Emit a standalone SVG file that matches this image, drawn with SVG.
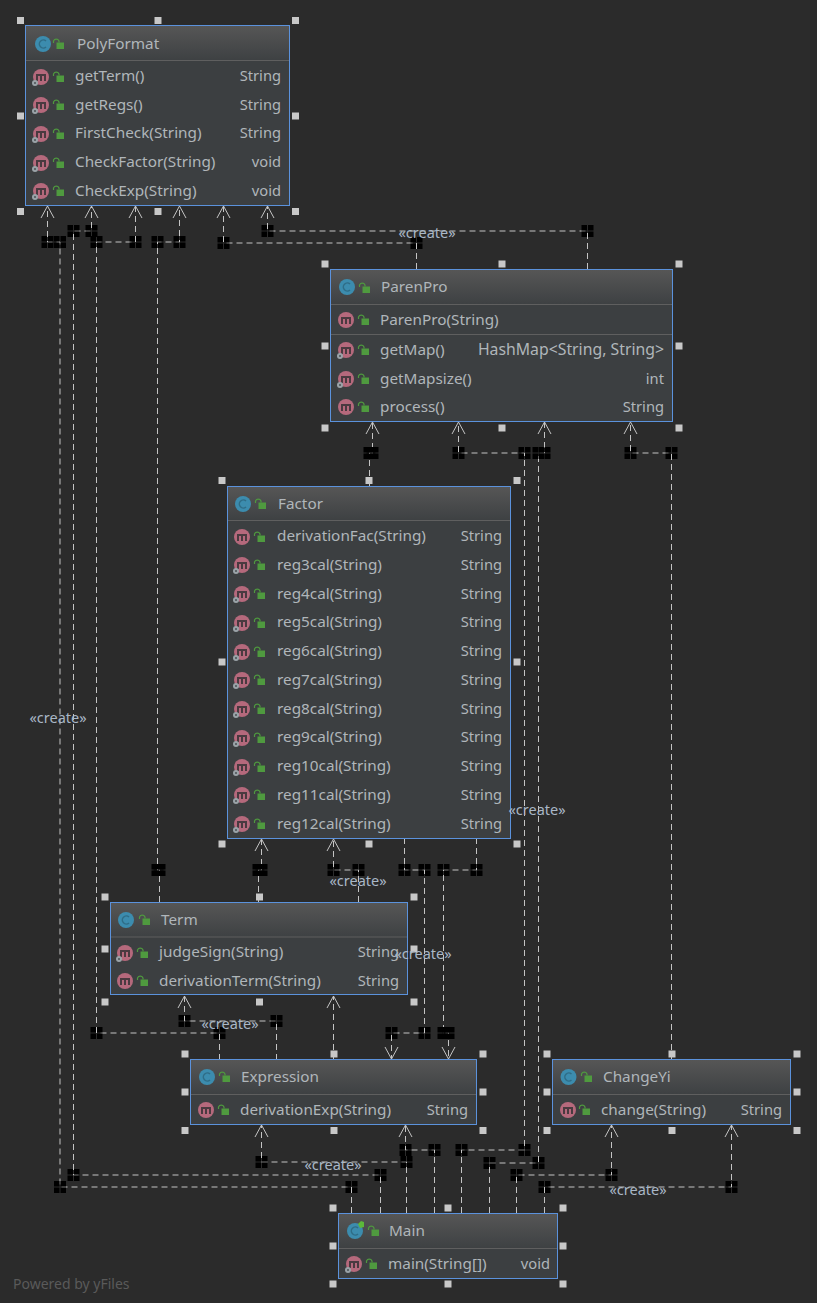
<svg xmlns="http://www.w3.org/2000/svg" width="817" height="1303" viewBox="0 0 817 1303">
<style>
text{font-family:"Noto Sans","Liberation Sans",sans-serif;font-size:15.3px;fill:#b0b6ba}
.t{text-anchor:end;font-size:14.7px}
.lb{text-anchor:middle;fill:#a9b7c6;font-size:14.5px}
.pw{font-size:14px;fill:#5a5a5a}
.hd{fill:url(#hg)}
.box{fill:#3c3f41;stroke:#5b92dc;stroke-width:1}
.sep{stroke:#5f5f5f;stroke-width:1}
.c path{fill:none;stroke:#c4c4c4;stroke-width:1;stroke-dasharray:6 4;marker-mid:url(#bend)}
.hn{fill:#c8c8c8}
</style>
<defs>
<linearGradient id="hg" x1="0" y1="0" x2="0" y2="1"><stop offset="0" stop-color="#565656"/><stop offset="1" stop-color="#3e4143"/></linearGradient>
<marker id="bend" markerUnits="userSpaceOnUse" markerWidth="14" markerHeight="14" refX="7" refY="7" overflow="visible">
<path d="M1 1h5.500v5.500H1zM7.500 1H13v5.500H7.500zM1 7.500h5.500V13H1zM7.500 7.500H13V13H7.500z" fill="#000"/>
</marker>
<g id="mi"><circle r="8" fill="#b5697c"/><path d="M-5-3H5V4H3V-1H1V4H-1V-1H-3V4H-5z" fill="#4a3a40"/></g>
<g id="mg"><use href="#mi"/><circle cx="-6" cy="6" r="3" fill="#9aa3a8"/><circle cx="-6" cy="6" r="1" fill="#4a5054"/></g>
<g id="ci"><circle r="8" fill="#3c8cae"/><path d="M3-3A4 4 0 1 0 3 3" fill="none" stroke="#2f6d87" stroke-width="1.500"/></g>
<g id="lk"><rect x="-3.500" y="-2.500" width="7.500" height="6.500" fill="#4f9a3f"/><path d="M-1-2.500V-4A3 3 0 0 0-6.500-4V-2" fill="none" stroke="#4f9a3f" stroke-width="1.200"/></g>
<g id="ah"><path d="M-6.500 12 0 0 6.500 12" fill="none" stroke="#c4c4c4" stroke-width="1"/></g>
<g id="ad"><path d="M-6.500-12 0 0 6.500-12" fill="none" stroke="#c4c4c4" stroke-width="1"/></g>
<rect id="h" x="-3.500" y="-3.500" width="7" height="7" class="hn"/>
</defs>
<rect width="817" height="1303" fill="#2b2b2b"/>
<g id="connectors" class="c">
<path d="M351.500 1213V1187H60V242H47.500V206"/>
<path d="M380.500 1213V1175H73.500V231H91.500V206"/>
<path d="M219.500 1060V1033H96.500V242H135.500V206"/>
<path d="M159.500 902V870H157.500V242H179.500V206"/>
<path d="M416.500 269V243H223.500V206"/>
<path d="M587.500 269V231H267.500V206"/>
<path d="M369.500 486V453H372.500V422"/>
<path d="M461.500 1213V1150H524.500V453H458.500V422"/>
<path d="M489.500 1213V1163H538.500V453H544.500V422"/>
<path d="M671.500 1060V453H630.500V422"/>
<path d="M258.500 902V870H261.500V839"/>
<path d="M358.500 902V870H333.500V839"/>
<path d="M404.500 838V870H424.500V1033H391.500V1059"/>
<path d="M476.500 838V870H443.500V1033H448.500V1059"/>
<path d="M276.500 1060V1021H184.500V996"/>
<path d="M333.500 1060V996"/>
<path d="M406.500 1213V1162H261.500V1125"/>
<path d="M434.500 1213V1150H405.500V1125"/>
<path d="M516.500 1213V1175H611.500V1125"/>
<path d="M544.500 1213V1187H731.500V1125"/>
</g>
<g id="arrowheads">
<use href="#ah" x="47.500" y="206"/><use href="#ah" x="91.500" y="206"/><use href="#ah" x="135.500" y="206"/><use href="#ah" x="179.500" y="206"/><use href="#ah" x="223.500" y="206"/><use href="#ah" x="267.500" y="206"/>
<use href="#ah" x="372.500" y="422"/><use href="#ah" x="458.500" y="422"/><use href="#ah" x="544.500" y="422"/><use href="#ah" x="630.500" y="422"/>
<use href="#ah" x="261.500" y="839"/><use href="#ah" x="333.500" y="839"/><use href="#ah" x="184.500" y="996"/><use href="#ah" x="333.500" y="996"/>
<use href="#ad" x="391.500" y="1059"/><use href="#ad" x="448.500" y="1059"/>
<use href="#ah" x="261.500" y="1125"/><use href="#ah" x="405.500" y="1125"/><use href="#ah" x="611.500" y="1125"/><use href="#ah" x="731.500" y="1125"/>
</g>
<g id="PolyFormat">
<rect class="box" x="25.500" y="25.500" width="264" height="180"/><rect class="hd" x="26" y="26" width="263" height="34"/><path class="sep" d="M26 60.500H289"/>
<use href="#ci" x="43" y="44"/><use href="#lk" x="60" y="45"/><text x="77" y="49">PolyFormat</text>
<use href="#mg" x="41" y="77"/><use href="#lk" x="60" y="78"/><text x="75" y="81">getTerm()</text><text class="t" x="281" y="81">String</text>
<use href="#mg" x="41" y="105"/><use href="#lk" x="60" y="106"/><text x="75" y="110">getRegs()</text><text class="t" x="281" y="110">String</text>
<use href="#mg" x="41" y="134"/><use href="#lk" x="60" y="135"/><text x="75" y="138">FirstCheck(String)</text><text class="t" x="281" y="138">String</text>
<use href="#mg" x="41" y="163"/><use href="#lk" x="60" y="164"/><text x="75" y="167">CheckFactor(String)</text><text class="t" x="281" y="167">void</text>
<use href="#mg" x="41" y="191"/><use href="#lk" x="60" y="192"/><text x="75" y="196">CheckExp(String)</text><text class="t" x="281" y="196">void</text>
<use href="#h" x="20.500" y="20.500"/><use href="#h" x="158" y="20.500"/><use href="#h" x="295.500" y="20.500"/><use href="#h" x="20.500" y="116"/><use href="#h" x="295.500" y="116"/><use href="#h" x="20.500" y="211.500"/><use href="#h" x="158" y="211.500"/><use href="#h" x="295.500" y="211.500"/>
</g>
<g id="ParenPro">
<rect class="box" x="330.500" y="269.500" width="342" height="152"/><rect class="hd" x="331" y="270" width="341" height="34"/><path class="sep" d="M331 304.500H672M331 334.500H672"/>
<use href="#ci" x="347" y="287"/><use href="#lk" x="366" y="289"/><text x="381" y="292">ParenPro</text>
<use href="#mi" x="346" y="320"/><use href="#lk" x="365" y="321"/><text x="380" y="325">ParenPro(String)</text>
<use href="#mg" x="346" y="350"/><use href="#lk" x="365" y="351"/><text x="380" y="355">getMap()</text><text class="t" x="664" y="355" style="font-size:15.8px">HashMap&lt;String, String&gt;</text>
<use href="#mg" x="346" y="379"/><use href="#lk" x="365" y="380"/><text x="380" y="384">getMapsize()</text><text class="t" x="664" y="384">int</text>
<use href="#mi" x="346" y="407"/><use href="#lk" x="365" y="408"/><text x="380" y="412">process()</text><text class="t" x="664" y="412">String</text>
<use href="#h" x="325" y="264"/><use href="#h" x="502" y="264"/><use href="#h" x="679" y="264"/><use href="#h" x="325" y="346"/><use href="#h" x="679" y="346"/><use href="#h" x="325" y="428"/><use href="#h" x="502" y="428"/><use href="#h" x="679" y="428"/>
</g>
<g id="Factor">
<rect class="box" x="227.500" y="486.500" width="283" height="352"/><rect class="hd" x="228" y="487" width="282" height="33"/><path class="sep" d="M228 520.500H510"/>
<use href="#ci" x="243" y="504"/><use href="#lk" x="262" y="505"/><text x="278" y="509">Factor</text>
<use href="#mi" x="242" y="537"/><use href="#lk" x="261" y="538"/><text x="277" y="541">derivationFac(String)</text><text class="t" x="502" y="541">String</text>
<use href="#mg" x="242" y="565"/><use href="#lk" x="261" y="566"/><text x="277" y="570">reg3cal(String)</text><text class="t" x="502" y="570">String</text>
<use href="#mg" x="242" y="594"/><use href="#lk" x="261" y="595"/><text x="277" y="599">reg4cal(String)</text><text class="t" x="502" y="599">String</text>
<use href="#mg" x="242" y="623"/><use href="#lk" x="261" y="624"/><text x="277" y="627">reg5cal(String)</text><text class="t" x="502" y="627">String</text>
<use href="#mg" x="242" y="652"/><use href="#lk" x="261" y="653"/><text x="277" y="656">reg6cal(String)</text><text class="t" x="502" y="656">String</text>
<use href="#mg" x="242" y="680"/><use href="#lk" x="261" y="681"/><text x="277" y="685">reg7cal(String)</text><text class="t" x="502" y="685">String</text>
<use href="#mg" x="242" y="709"/><use href="#lk" x="261" y="710"/><text x="277" y="714">reg8cal(String)</text><text class="t" x="502" y="714">String</text>
<use href="#mg" x="242" y="738"/><use href="#lk" x="261" y="739"/><text x="277" y="742">reg9cal(String)</text><text class="t" x="502" y="742">String</text>
<use href="#mg" x="242" y="767"/><use href="#lk" x="261" y="768"/><text x="277" y="771">reg10cal(String)</text><text class="t" x="502" y="771">String</text>
<use href="#mg" x="242" y="795"/><use href="#lk" x="261" y="796"/><text x="277" y="800">reg11cal(String)</text><text class="t" x="502" y="800">String</text>
<use href="#mg" x="242" y="824"/><use href="#lk" x="261" y="825"/><text x="277" y="829">reg12cal(String)</text><text class="t" x="502" y="829">String</text>
<use href="#h" x="222" y="480.500"/><use href="#h" x="369" y="480.500"/><use href="#h" x="517" y="480.500"/><use href="#h" x="222" y="662"/><use href="#h" x="517" y="662"/><use href="#h" x="222" y="844"/><use href="#h" x="369" y="844"/><use href="#h" x="517" y="844"/>
</g>
<g id="Term">
<rect class="box" x="110.500" y="902.500" width="297" height="92"/><rect class="hd" x="111" y="903" width="296" height="34"/><path class="sep" d="M111 937H407" stroke-width="2"/>
<use href="#ci" x="126" y="920"/><use href="#lk" x="146" y="921"/><text x="161" y="925">Term</text>
<use href="#mg" x="125" y="953"/><use href="#lk" x="144" y="954"/><text x="159" y="957">judgeSign(String)</text><text class="t" x="399" y="957">String</text>
<use href="#mi" x="125" y="981"/><use href="#lk" x="144" y="982"/><text x="159" y="986">derivationTerm(String)</text><text class="t" x="399" y="986">String</text>
<use href="#h" x="105" y="897"/><use href="#h" x="259.500" y="897"/><use href="#h" x="414" y="897"/><use href="#h" x="105" y="949"/><use href="#h" x="414" y="949"/><use href="#h" x="105" y="1002"/><use href="#h" x="259.500" y="1002"/><use href="#h" x="414" y="1002"/>
</g>
<g id="Expression">
<rect class="box" x="190.500" y="1059.500" width="286" height="65"/><rect class="hd" x="191" y="1060" width="285" height="34"/><path class="sep" d="M191 1094.500H476"/>
<use href="#ci" x="207" y="1077"/><use href="#lk" x="226" y="1078"/><text x="241" y="1082">Expression</text>
<use href="#mi" x="206" y="1110"/><use href="#lk" x="225" y="1111"/><text x="240" y="1115">derivationExp(String)</text><text class="t" x="468" y="1115">String</text>
<use href="#h" x="185" y="1054"/><use href="#h" x="334" y="1054"/><use href="#h" x="483" y="1054"/><use href="#h" x="185" y="1092"/><use href="#h" x="483" y="1092"/><use href="#h" x="185" y="1130.500"/><use href="#h" x="334" y="1130.500"/><use href="#h" x="483" y="1130.500"/>
</g>
<g id="ChangeYi">
<rect class="box" x="552.500" y="1059.500" width="238" height="65"/><rect class="hd" x="553" y="1060" width="237" height="34"/><path class="sep" d="M553 1094.500H790"/>
<use href="#ci" x="568.500" y="1077"/><use href="#lk" x="588" y="1078"/><text x="603" y="1082">ChangeYi</text>
<use href="#mi" x="568" y="1110"/><use href="#lk" x="586" y="1111"/><text x="601" y="1115">change(String)</text><text class="t" x="782" y="1115">String</text>
<use href="#h" x="547" y="1054"/><use href="#h" x="672" y="1054"/><use href="#h" x="797" y="1054"/><use href="#h" x="547" y="1092"/><use href="#h" x="797" y="1092"/><use href="#h" x="547" y="1130.500"/><use href="#h" x="672" y="1130.500"/><use href="#h" x="797" y="1130.500"/>
</g>
<g id="Main">
<rect class="box" x="338.500" y="1213.500" width="219" height="65"/><rect class="hd" x="339" y="1214" width="218" height="34"/><path class="sep" d="M339 1248.500H557"/>
<use href="#ci" x="355" y="1231"/><path d="M358 1224l3-3 3 1 0 5-4 1z" fill="#5cb83a"/><use href="#lk" x="375" y="1232"/><text x="389" y="1236">Main</text>
<use href="#mg" x="354" y="1264"/><use href="#lk" x="373" y="1265"/><text x="388" y="1269">main(String[])</text><text class="t" x="550" y="1269">void</text>
<use href="#h" x="333" y="1208"/><use href="#h" x="448" y="1208"/><use href="#h" x="563" y="1208"/><use href="#h" x="333" y="1246"/><use href="#h" x="563" y="1246"/><use href="#h" x="333" y="1284"/><use href="#h" x="448" y="1284"/><use href="#h" x="563" y="1284"/>
</g>
<g id="labels">
<text class="lb" x="427" y="238">«create»</text>
<text class="lb" x="58" y="723">«create»</text>
<text class="lb" x="537" y="815">«create»</text>
<text class="lb" x="358" y="886">«create»</text>
<text class="lb" x="423" y="959">«create»</text>
<text class="lb" x="230" y="1029">«create»</text>
<text class="lb" x="333" y="1170">«create»</text>
<text class="lb" x="638" y="1195">«create»</text>
</g>
<text class="pw" x="13" y="1289">Powered by yFiles</text>
</svg>
